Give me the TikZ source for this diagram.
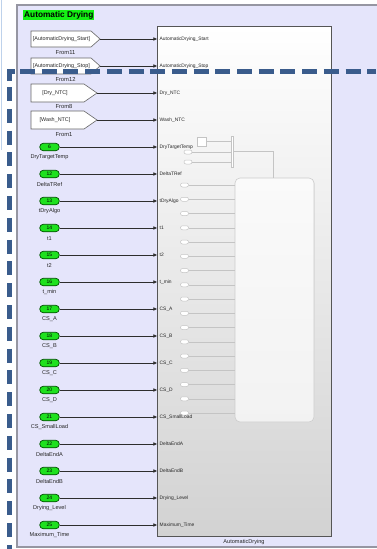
\documentclass[tikz,border=0pt]{standalone}
\usepackage{fontspec}
\setmainfont{Liberation Sans}
\usetikzlibrary{arrows.meta,shadows}

\definecolor{lav}{RGB}{229,229,251}
\definecolor{frameline}{RGB}{150,150,162}
\definecolor{dashblue}{RGB}{58,92,140}
\definecolor{titlegreen}{RGB}{20,240,20}
\definecolor{inportgreen}{RGB}{30,225,30}
\definecolor{inportedge}{RGB}{0,80,0}
\definecolor{wire}{RGB}{45,45,45}
\definecolor{ghost}{RGB}{196,196,196}
\definecolor{blockedge}{RGB}{85,85,85}
\definecolor{blockbottom}{RGB}{210,210,210}
\definecolor{sideline}{RGB}{190,210,235}

\newcommand\tagfont{\fontsize{5.4pt}{6pt}\selectfont}

\begin{document}
\begin{tikzpicture}[x=1pt,y=-1pt,
  sig/.style={draw=wire, line width=0.6pt, -{Triangle[length=3.6pt,width=3.2pt]}},
  portlab/.style={anchor=west, inner sep=0pt, font=\fontsize{4.9pt}{5pt}\selectfont, text=black!85},
  inport/.style={draw=inportedge, line width=0.7pt, fill=inportgreen, rounded corners=3.6pt,
    minimum width=19.5pt, minimum height=7.5pt, inner sep=0pt, font=\fontsize{5pt}{5pt}\selectfont},
  inlab/.style={inner sep=0pt, font=\fontsize{5.6pt}{6pt}\selectfont, text=black!85},
  tagshape/.style={draw=black!60, line width=0.6pt, fill=white},
  tagtext/.style={inner sep=0pt, font=\tagfont, text=black!85},
  taglab/.style={inner sep=0pt, font=\fontsize{5.8pt}{6pt}\selectfont, text=black!85},
  ghostport/.style={draw=ghost, line width=0.5pt, fill=white, rounded corners=2pt,
    minimum width=8pt, minimum height=4pt, inner sep=0pt},
  ghostwire/.style={draw=ghost, line width=0.5pt},
  bluedash/.style={draw=dashblue, line width=4.6pt}
]
\useasboundingbox (0,0) rectangle (376,549);
\fill[white] (0,0) rectangle (376,549);
\draw[sideline, line width=1.2pt] (1.5,0) -- (1.5,150);

% subsystem area
\fill[lav] (17,5) rectangle (382,547);
\draw[frameline, line width=1.2pt] (382,5) -- (17,5) -- (17,547) -- (382,547);
\node[fill=titlegreen, inner sep=1pt, anchor=west,
      font=\bfseries\fontsize{8.3pt}{9pt}\selectfont] (title) at (23,15) {Automatic Drying};

% main subsystem block
\node[draw=blockedge, line width=0.8pt, top color=white, bottom color=blockbottom,
      minimum width=174pt, minimum height=510pt, inner sep=0pt,
      drop shadow={shadow xshift=1.2pt, shadow yshift=-1.2pt, fill=black!45, opacity=0.6}]
      (blk) at (244,281) {};
\node[inlab] (blkname) at (244,542.5) {AutomaticDrying};

% inner chart block and its ports
\node[draw=black!20, line width=0.6pt, top color=white!98!black, bottom color=black!5,
      rounded corners=5pt, minimum width=79pt, minimum height=244pt, inner sep=0pt,
      drop shadow={shadow xshift=0.8pt, shadow yshift=-0.8pt, fill=black!12, opacity=0.8}]
      (sf) at (274.5,300) {};
\foreach \i in {0,...,16}{
  \node[ghostport] (g\i) at (184.5,185+14.25*\i) {};
  \draw[ghostwire] (g\i.east) -- (g\i.east -| sf.west);
}
\node[draw=ghost, line width=0.5pt, fill=white, minimum width=9pt, minimum height=9pt, inner sep=0pt]
      (gsq) at (201.5,141.5) {};
\node[draw=ghost, line width=0.5pt, fill=white, minimum width=2pt, minimum height=31pt, inner sep=0pt]
      (gbar) at (232,151.5) {};
\node[ghostport] (gt1) at (188,152) {};
\node[ghostport] (gt2) at (188,162) {};
\draw[ghostwire] (gsq.east) -- (gsq.east -| gbar.west);
\draw[ghostwire] (gt1.east) -- (gt1.east -| gbar.west);
\draw[ghostwire] (gt2.east) -- (gt2.east -| gbar.west);
\coordinate (gbend) at (273,151.5);
\draw[ghostwire] (gbar.east) -- (gbend) -- (gbend |- sf.north);

% input ports of the block
\foreach \k/\lab in {0/AutomaticDrying\_Start, 1/AutomaticDrying\_Stop, 2/Dry\_NTC, 3/Wash\_NTC,
    4/DryTargetTemp, 5/DeltaTRef, 6/tDryAlgo, 7/t1, 8/t2, 9/t\_min, 10/CS\_A, 11/CS\_B,
    12/CS\_C, 13/CS\_D, 14/CS\_SmallLoad, 15/DeltaEndA, 16/DeltaEndB, 17/Drying\_Level,
    18/Maximum\_Time}{
  \coordinate (p\k) at (157,39+27*\k);
  \node[portlab] (pl\k) at (159.5,39+27*\k) {\lab};
}

% From blocks
\draw[tagshape] (31,31) -- (91,31) -- (100,39) -- (91,47) -- (31,47) -- cycle;
\coordinate (f0) at (100,39);
\node[tagtext] (ft0) at (61.5,39) {[AutomaticDrying\_Start]};
\node[taglab] (fl0) at (65.5,52.5) {From11};

\draw[tagshape] (31,58) -- (91,58) -- (100,66) -- (91,74) -- (31,74) -- cycle;
\coordinate (f1) at (100,66);
\node[tagtext] (ft1) at (61.5,66) {[AutomaticDrying\_Stop]};
\node[taglab] (fl1) at (65.5,80) {From12};

\draw[tagshape] (31,84) -- (84,84) -- (97,93) -- (84,102) -- (31,102) -- cycle;
\coordinate (f2) at (97,93);
\node[tagtext] (ft2) at (55,93) {[Dry\_NTC]};
\node[taglab] (fl2) at (64,107) {From8};

\draw[tagshape] (31,111) -- (84,111) -- (97,120) -- (84,129) -- (31,129) -- cycle;
\coordinate (f3) at (97,120);
\node[tagtext] (ft3) at (55,120) {[Wash\_NTC]};
\node[taglab] (fl3) at (64,134.5) {From1};

\foreach \k in {0,...,3}{ \draw[sig] (f\k) -- (p\k); }

% numbered inports
\foreach \k/\n/\lab in {4/6/DryTargetTemp, 5/12/DeltaTRef, 6/13/tDryAlgo, 7/14/t1, 8/15/t2,
    9/16/t\_min, 10/17/CS\_A, 11/18/CS\_B, 12/19/CS\_C, 13/20/CS\_D, 14/21/CS\_SmallLoad,
    15/22/DeltaEndA, 16/23/DeltaEndB, 17/24/Drying\_Level, 18/25/Maximum\_Time}{
  \node[inport] (in\k) at (49.5,39+27*\k) {\n};
  \node[inlab] (il\k) at (49.5,39+27*\k+10.5) {\lab};
  \draw[sig] (in\k.east) -- (p\k);
}

% dashed boundary
\coordinate (dc) at (9.5,71.5);
\coordinate (dh) at (15,71.5);
\coordinate (dv) at (9.5,81);
\coordinate (dhs) at (20,71.5);
\coordinate (dhe) at (376,71.5);
\coordinate (dvs) at (9.5,87);
\coordinate (dve) at (9.5,549);
\draw[bluedash, line join=miter] (dv) -- (dc) -- (dh);
\draw[bluedash, dash pattern=on 15pt off 6.7pt] (dhs) -- (dhe);
\draw[bluedash, dash pattern=on 14pt off 7.8pt] (dvs) -- (dve);
\end{tikzpicture}
\end{document}
